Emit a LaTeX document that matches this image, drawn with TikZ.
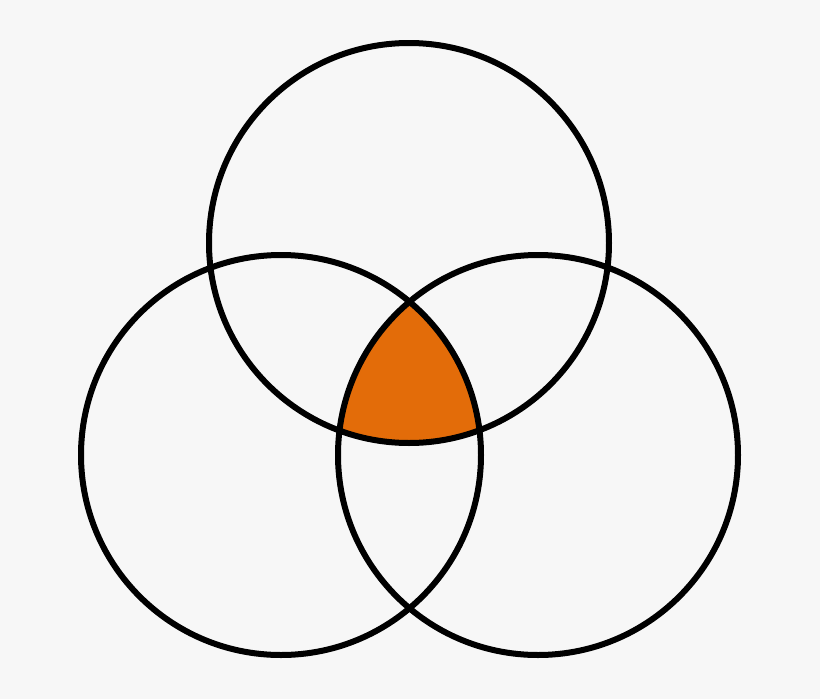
\documentclass[tikz,border=0pt]{standalone}
\definecolor{bg}{HTML}{F7F7F7}
\definecolor{fillor}{HTML}{E36C09}
\begin{document}
\begin{tikzpicture}[x=1pt,y=-1pt,ring/.style={draw=black,line width=6pt}]
\fill[bg] (0,0) rectangle (820,699);
\useasboundingbox (0,0) rectangle (820,699);
\coordinate (ct) at (409,243);
\coordinate (cl) at (281,455);
\coordinate (cr) at (538,455);
\begin{scope}
\clip (ct) circle (200);
\clip (cl) circle (200);
\fill[fillor] (cr) circle (200);
\end{scope}
\draw[ring] (ct) circle (200);
\draw[ring] (cl) circle (200);
\draw[ring] (cr) circle (200);
\end{tikzpicture}
\end{document}
